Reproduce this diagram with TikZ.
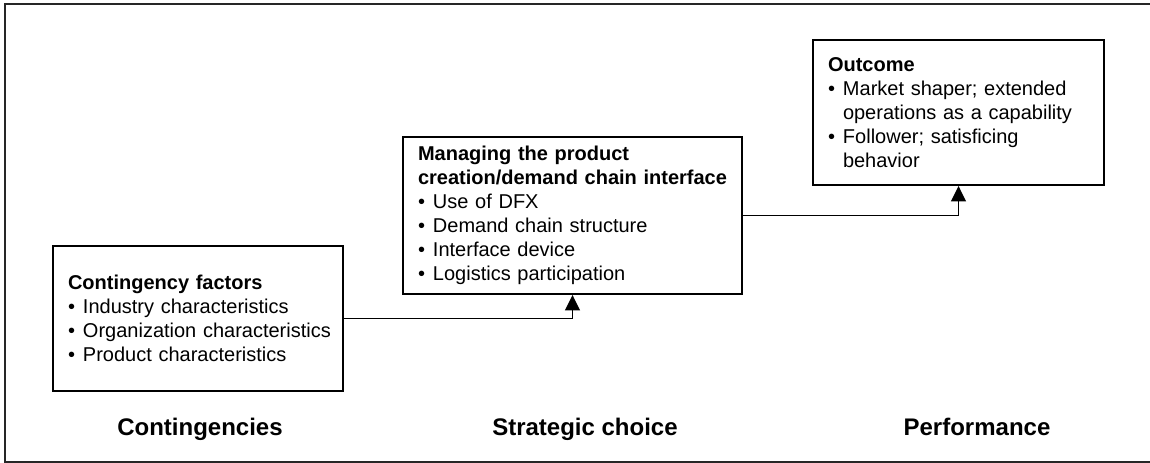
\documentclass[tikz,border=0pt]{standalone}
\usepackage{fontspec}
\setmainfont{Liberation Sans}
\usetikzlibrary{arrows.meta}
\newcommand{\bul}{\makebox[11.25pt][l]{•}}
\newcommand{\ind}{\hspace*{11.25pt}}
\hfuzz=20pt
\hyphenpenalty=10000
\exhyphenpenalty=10000
\begin{document}
\begin{tikzpicture}[x=0.75pt,y=-0.75pt,
  box/.style={draw=black, line width=1.4pt, rectangle, align=left,
    inner xsep=11.25pt, inner ysep=0pt,
    font=\fontsize{15}{18}\selectfont},
  conn/.style={draw=black, line width=1.4pt, -{Triangle[width=11pt,length=11.5pt]}},
  lab/.style={anchor=base, font=\fontsize{18}{22}\selectfont\bfseries}]
\useasboundingbox (0,0) rectangle (1150,463);
\fill[white] (0,0) rectangle (1150,463);
\draw[line width=1.5pt, draw=black!85] (1150,4.5) -- (4.5,4.5) -- (4.5,462) -- (1150,462);

\node[box, minimum width=217.5pt, minimum height=108.75pt, text width=195pt] (b1) at (198,318.5)
  {\textbf{Contingency factors}\\
   \bul Industry characteristics\\
   \mbox{\bul Organization characteristics}\\
   \bul Product characteristics};

\node[box, minimum width=254.25pt, minimum height=117.75pt, text width=231.75pt] (b2) at (572.5,215.5)
  {\textbf{Managing the product}\\
   \mbox{\textbf{creation/demand chain interface}}\\
   \bul Use of DFX\\
   \bul Demand chain structure\\
   \bul Interface device\\
   \bul Logistics participation};

\node[box, minimum width=218.25pt, minimum height=108.75pt, text width=195.75pt] (b3) at (958.5,112.5)
  {\textbf{Outcome}\\
   \bul Market shaper; extended\\
   \ind operations as a capability\\
   \bul Follower; satisficing\\
   \ind behavior};

\draw[conn] (b1.east) -| (b2.south);
\draw[conn] (b2.east) -| (b3.south);

\node[lab] (l1) at (200,435) {Contingencies};
\node[lab] (l2) at (585,435) {Strategic choice};
\node[lab] (l3) at (977,435) {Performance};
\end{tikzpicture}
\end{document}
